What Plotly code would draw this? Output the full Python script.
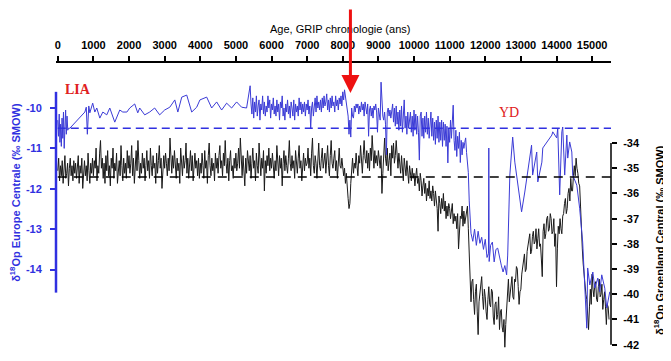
import plotly.graph_objects as go

# ---------------- data ----------------
# top axis ticks (years, GRIP chronology)
age_ticks = list(range(0, 16000, 1000))

# Greenland (GRIP) delta18O, right axis, 25-year steps starting at 0 (one row = 500 years)
black_step = 25
black_val = [
    -35.1, -34.6, -35.5, -34.9, -35.3, -34.7, -35.6, -35.0, -34.5, -35.4, -35.2, -34.8, -35.7, -35.0, -34.6, -35.3, -34.9, -35.5, -34.7, -35.2,
    -34.8, -35.4, -35.0, -34.5, -35.6, -34.9, -35.2, -34.6, -35.8, -35.1, -34.7, -35.3, -34.9, -35.5, -34.4, -35.1, -35.6, -34.8, -35.2, -34.6,
    -35.3, -34.7, -35.0, -34.2, -35.5, -34.9, -35.2, -34.4, -33.9, -35.0, -34.6, -35.4, -34.8, -35.6, -34.5, -35.1, -34.3, -35.3, -34.9, -35.7,
    -34.6, -35.0, -34.2, -35.4, -34.8, -35.1, -34.4, -35.6, -35.0, -34.7, -35.3, -34.1, -34.9, -35.5, -34.6, -35.2, -34.8, -35.4, -34.3, -35.0,
    -34.5, -35.2, -34.8, -34.1, -35.3, -34.6, -35.6, -34.9, -34.3, -35.1, -33.9, -34.7, -35.4, -34.8, -35.2, -34.4, -35.0, -34.6, -35.5, -34.9,
    -34.3, -35.1, -34.7, -35.4, -34.2, -34.9, -35.3, -34.5, -35.0, -34.8, -35.6, -34.4, -35.2, -34.7, -34.1, -35.0, -34.6, -35.8, -34.9, -34.5,
    -35.0, -34.4, -34.8, -35.3, -34.6, -35.1, -33.8, -34.7, -35.2, -34.5, -35.0, -34.3, -34.9, -35.4, -34.6, -35.1, -34.8, -35.6, -34.2, -34.9,
    -35.3, -34.5, -35.0, -34.7, -34.0, -35.2, -34.6, -35.4, -34.8, -34.3, -35.1, -34.5, -35.5, -34.9, -34.4, -35.0, -34.7, -35.3, -34.6, -35.4,
    -34.8, -35.2, -34.4, -34.9, -35.4, -34.3, -35.0, -34.7, -35.6, -34.5, -34.0, -34.9, -35.3, -34.6, -35.1, -34.8, -35.5, -34.4, -35.0, -34.6,
    -35.2, -34.5, -34.1, -35.0, -34.7, -35.3, -34.4, -34.9, -33.9, -34.8, -35.2, -34.6, -35.5, -34.7, -34.3, -35.1, -34.9, -35.4, -34.6, -35.0,
    -34.4, -35.1, -34.8, -34.2, -35.0, -33.8, -34.6, -35.3, -34.5, -35.0, -35.7, -34.6, -35.2, -34.3, -34.9, -35.1, -34.5, -35.4, -34.8, -34.2,
    -35.0, -34.7, -35.5, -34.4, -34.9, -35.2, -34.0, -34.8, -35.3, -34.6, -35.0, -34.3, -35.9, -34.7, -35.2, -34.5, -34.9, -34.2, -35.1, -34.6,
    -35.0, -34.4, -34.9, -35.4, -34.7, -35.1, -34.1, -34.8, -35.3, -34.5, -35.0, -34.6, -35.7, -34.8, -34.3, -35.1, -34.5, -34.9, -35.2, -34.6,
    -33.9, -34.8, -35.1, -34.5, -35.0, -34.7, -35.4, -34.3, -34.9, -35.2, -34.6, -34.1, -35.0, -34.7, -35.5, -34.8, -34.4, -35.1, -34.6, -34.9,
    -34.8, -34.2, -35.0, -34.6, -35.3, -34.4, -33.8, -34.9, -35.2, -34.5, -34.8, -35.4, -34.3, -34.0, -34.9, -35.1, -34.6, -34.2, -35.0, -34.7,
    -34.4, -35.2, -34.7, -34.1, -34.9, -35.3, -34.5, -33.9, -34.8, -35.0, -34.6, -34.3, -35.1, -34.7, -35.4, -34.5, -34.2, -34.9, -35.0, -34.6,
    -34.9, -35.3, -35.0, -35.6, -35.2, -35.9, -36.2, -36.6, -36.4, -35.6, -35.1, -34.6, -35.2, -34.8, -35.0, -34.4, -34.9, -35.3, -34.5, -34.8,
    -34.1, -34.9, -35.2, -34.5, -33.9, -34.6, -34.8, -34.3, -35.0, -34.4, -35.1, -34.2, -34.7, -33.7, -34.6, -35.0, -34.3, -34.8, -34.5, -34.9,
    -34.3, -34.8, -35.0, -34.5, -36.0, -35.2, -34.4, -33.8, -34.6, -34.9, -34.2, -35.1, -34.7, -34.4, -35.3, -34.1, -34.6, -34.0, -34.8, -34.5,
    -33.9, -34.7, -35.0, -34.4, -34.8, -35.2, -34.5, -34.9, -35.5, -34.6, -35.0, -35.3, -34.7, -35.1, -35.6, -34.9, -35.2, -35.5, -35.0, -35.4,
    -35.2, -35.7, -35.3, -35.0, -35.6, -35.4, -35.9, -35.2, -35.5, -36.1, -35.7, -35.4, -36.0, -35.6, -36.3, -35.8, -36.1, -35.5, -36.2, -35.9,
    -36.3, -35.7, -36.0, -36.5, -35.9, -36.2, -36.6, -37.5, -36.1, -36.4, -36.8, -36.2, -36.6, -36.0, -36.7, -36.3, -37.0, -36.5, -36.9, -36.4,
    -36.6, -37.0, -36.7, -36.4, -37.2, -36.8, -37.1, -36.9, -37.4, -36.8, -38.2, -37.3, -36.9, -37.0, -36.5, -37.3, -36.7, -37.2, -36.9, -36.6,
    -36.5, -37.4, -38.5, -39.6, -40.3, -39.5, -39.4, -40.2, -40.8, -39.9, -39.6, -40.7, -41.6, -40.3, -40.0, -39.5, -39.3, -40.1, -40.6, -39.8,
    -40.1, -40.7, -41.0, -40.2, -39.7, -40.4, -40.5, -39.8, -39.9, -40.9, -41.2, -40.4, -40.3, -41.0, -40.8, -40.1, -41.4, -40.7, -40.6, -41.3,
    -41.5, -41.0, -42.1, -41.2, -40.7, -40.1, -39.4, -40.3, -40.0, -39.6, -39.3, -40.1, -40.2, -39.4, -39.5, -38.9, -39.0, -39.7, -40.4, -39.9,
    -39.8, -39.2, -38.9, -38.5, -38.4, -39.1, -39.0, -38.3, -38.1, -37.8, -37.6, -38.4, -38.3, -37.7, -37.5, -38.0, -37.9, -37.4, -38.2, -37.8,
    -37.4, -38.1, -38.0, -38.6, -39.3, -37.5, -37.2, -37.8, -37.6, -37.0, -36.9, -37.5, -37.4, -36.8, -37.0, -37.6, -37.5, -37.0, -38.1, -37.6,
    -39.7, -38.2, -37.3, -37.6, -37.0, -37.4, -37.6, -36.9, -36.8, -36.4, -36.2, -36.8, -36.6, -36.0, -35.8, -36.3, -35.4, -35.9, -35.9, -35.3,
    -34.9, -35.3, -34.6, -35.0, -35.2, -35.6, -35.7, -36.5, -37.6, -38.2, -38.8, -39.3, -39.6, -40.0, -40.2, -40.8, -41.4, -40.5, -39.8, -40.4,
    -39.2, -39.8, -40.1, -39.6, -39.5, -40.2, -40.3, -39.7, -39.4, -40.1, -40.0, -39.6, -40.6, -40.2, -39.9, -40.5, -41.2, -40.4, -40.5, -41.0,
]

# Central Europe delta18O, left axis: irregular early part
blue_early_age = [0, 20, 40, 60, 80, 100, 120, 140, 160, 180, 200, 220, 240, 260, 280, 300,
                  340, 760, 800, 830, 870, 900, 980, 1040, 1095, 1180, 1265, 1375, 1460, 1600,
                  1740, 1825, 1940, 2020, 2160, 2245, 2300, 2440, 2580, 2720, 2860, 3000, 3145,
                  3285, 3370, 3480, 3620, 3760, 3900, 3990, 4180, 4320, 4460, 4600, 4740, 4880,
                  5020, 5160, 5300]
blue_early_val = [-10.3, -10.7, -10.15, -10.85, -10.4, -10.95, -10.25, -10.75, -10.1, -11.0, -10.5, -10.05, -10.65, -10.2, -10.55, -10.5,
                  -10.5, -10.1, -9.98, -10.65, -9.95, -10.12, -9.88, -10.1, -10.0, -10.25, -10.1, -10.17, -10.0, -10.35,
                  -10.05, -10.1, -10.1, -10.0, -9.9, -10.12, -10.0, -10.17, -10.1, -10.0, -10.17, -10.05, -9.98,
                  -9.8, -10.1, -9.73, -9.68, -10.1, -9.98, -9.8, -9.73, -10.0, -9.85, -10.05, -9.88, -10.0,
                  -9.85, -9.98, -10.0]

# dense part, 25-year steps starting at 5400 (one row = 500 years)
blue_dense_start = 5400
blue_dense_step = 25
blue_dense_val = [
    -9.45, -9.9, -10.15, -9.75, -10.25, -9.85, -10.1, -9.7, -10.2, -9.95, -9.8, -10.3, -9.9, -10.05, -9.7, -10.15, -9.85, -10.2, -9.95, -10.1,
    -9.7, -10.0, -9.8, -10.25, -9.9, -10.05, -9.75, -10.15, -9.95, -10.2, -9.8, -10.1, -9.9, -10.3, -9.85, -10.0, -9.7, -10.2, -10.0, -10.3,
    -9.9, -10.1, -9.8, -10.15, -9.95, -10.25, -9.85, -10.0, -10.2, -9.8, -10.3, -9.9, -10.1, -9.95, -10.2, -9.75, -10.05, -9.85, -10.15, -9.9,
    -10.1, -9.85, -10.2, -9.9, -10.05, -9.8, -10.15, -9.95, -10.5, -10.0, -9.85, -10.2, -10.0, -9.75, -10.1, -9.7, -10.0, -9.85, -10.05, -9.8,
    -10.1, -9.75, -10.0, -9.7, -9.95, -9.85, -9.65, -10.05, -9.8, -10.1, -9.75, -10.0, -9.7, -9.95, -9.85, -10.1, -9.7, -9.95, -9.8, -10.05,
    -9.75, -9.9, -9.7, -9.95, -9.6, -9.8, -9.55, -9.75, -9.9, -10.05, -10.2, -10.65, -10.3, -10.72, -10.0, -10.2, -10.25, -9.95, -10.1, -9.9,
    -10.0, -9.9, -10.15, -9.95, -10.1, -9.85, -10.05, -9.9, -10.2, -9.85, -10.0, -10.15, -9.9, -10.7, -10.05, -9.95, -10.2, -10.0, -10.25, -9.95,
    -10.05, -9.9, -10.1, -10.6, -10.0, -10.15, -10.3, -9.36, -10.05, -10.2, -10.3, -10.1, -10.4, -11.16, -10.1, -10.0, -10.2, -10.05, -10.25, -10.1,
    -9.9, -10.35, -10.0, -10.45, -9.95, -10.4, -10.1, -10.55, -10.05, -10.45, -9.95, -10.6, -10.15, -9.8, -10.5, -10.2, -10.65, -10.1, -10.5, -10.2,
    -10.1, -10.6, -10.2, -10.7, -10.05, -10.55, -10.15, -10.65, -10.2, -10.6, -11.29, -10.2, -10.1, -10.7, -10.25, -10.75, -10.2, -10.6, -10.1, -10.65,
    -10.25, -10.75, -10.3, -10.1, -10.7, -10.25, -10.8, -10.35, -10.9, -10.3, -10.75, -10.2, -10.85, -10.35, -10.8, -10.3, -10.95, -10.35, -10.8, -10.4,
    -10.95, -10.45, -11.36, -10.5, -10.85, -10.3, -10.75, -10.2, -9.93, -10.8, -11.05, -10.55, -11.2, -10.7, -11.0, -10.6, -11.35, -10.8, -11.16, -10.85,
    -11.0, -10.85, -10.74, -11.1, -11.34, -11.6, -12.3, -12.8,
]

# late part (Younger Dryas / Bolling-Allerod), irregular
blue_late_age = [11600, 11650, 11700, 11750, 11800, 11850, 11900, 11950, 12000, 12050, 12090, 12100, 12110,
                 12150, 12200, 12250, 12300, 12350, 12400, 12450, 12500, 12550, 12600, 12630, 12690, 12770,
                 12830, 12910, 13020, 13110, 13190, 13250, 13300, 13330, 13445, 13475, 13590, 13615, 13725,
                 13810, 13870, 13895, 14005, 14035, 14090, 14150, 14175, 14230, 14290, 14315, 14370, 14430,
                 14455, 14570, 14650, 14735, 14795, 14850, 14875, 14935, 15020, 15075, 15160, 15215, 15270,
                 15355, 15410, 15495]
blue_late_val = [-13.1, -13.3, -13.0, -13.4, -13.05, -13.35, -13.2, -13.5, -13.25, -13.7, -13.6, -10.99, -13.8,
                 -13.4, -13.32, -13.81, -13.5, -13.47, -13.7, -13.89, -14.06, -13.9, -14.13, -13.64, -11.66, -10.72,
                 -11.34, -11.91, -12.57, -12.08, -11.58, -11.24, -10.92, -11.66, -11.09, -11.83, -11.34, -10.99, -10.84,
                 -10.74, -10.67, -10.59, -10.74, -10.5, -12.15, -10.59, -10.47, -11.66, -10.67, -11.24, -10.84, -11.09,
                 -11.66, -11.91, -12.48, -13.32, -14.31, -15.45, -13.96, -14.38, -14.06, -14.46, -14.21, -14.55, -14.13,
                 -14.46, -14.95, -14.55]

blue_ref = -10.5      # dashed reference, Europe
black_ref = -35.35    # dashed reference, Greenland
event_age = 8215      # 8.2 ka event arrow

left_ticks = [-10, -11, -12, -13, -14]
right_ticks = [-34, -35, -36, -37, -38, -39, -40, -41, -42]

# ---------------- build ----------------
black_age = [black_step * i for i in range(len(black_val))]
blue_dense_age = [blue_dense_start + blue_dense_step * i for i in range(len(blue_dense_val))]
blue_age = blue_early_age + blue_dense_age + blue_late_age
blue_val = blue_early_val + blue_dense_val + blue_late_val

BLUE = "#3030e0"
FONT = "Arial, Liberation Sans, sans-serif"
SERIF = "Liberation Serif, Times New Roman, serif"

fig = go.Figure()
fig.add_trace(go.Scatter(x=black_age, y=black_val, mode="lines", yaxis="y",
                         line=dict(color="#1a1a1a", width=1), showlegend=False))
fig.add_trace(go.Scatter(x=blue_age, y=blue_val, mode="lines", yaxis="y2",
                         line=dict(color="#3b3bd6", width=1), showlegend=False))

# the page body keeps an 8px margin, so the figure is sized and placed to compensate
fig.update_layout(
    width=663, height=345,
    margin=dict(l=48, r=60, t=55, b=1, autoexpand=False),
    paper_bgcolor="white", plot_bgcolor="white",
    xaxis=dict(range=[-50, 15530], side="top", showline=True, linecolor="black", linewidth=1.5,
               ticks="outside", ticklen=5, tickwidth=1.5, tickcolor="black",
               tickvals=age_ticks, ticktext=[str(v) for v in age_ticks],
               tickfont=dict(family=FONT, size=11, color="black", weight="bold"),
               ticklabelstandoff=3, automargin=False,
               showgrid=False, zeroline=False),
    yaxis=dict(range=[-42.29, -30.825], side="right", showline=False,
               tickvals=right_ticks, ticktext=[str(v) for v in right_ticks],
               ticks="outside", ticklen=5, tickwidth=1.5, tickcolor="black",
               tickfont=dict(family=FONT, size=11, color="black", weight="bold"),
               ticklabelstandoff=4, automargin=False, showgrid=False, zeroline=False),
    yaxis2=dict(range=[-16.04, -8.886], side="left", overlaying="y", showline=False,
                tickvals=left_ticks, ticktext=[str(v) for v in left_ticks],
                ticks="outside", ticklen=5, tickwidth=1.5, tickcolor=BLUE,
                tickfont=dict(family=FONT, size=11, color=BLUE, weight="bold"),
                ticklabelstandoff=6, automargin=False, showgrid=False, zeroline=False),
)

# axis lines limited to the labelled ranges
fig.add_shape(type="line", xref="paper", x0=0, x1=0, yref="y2", y0=-9.6, y1=-14.57,
              line=dict(color=BLUE, width=2.5))
fig.add_shape(type="line", xref="paper", x0=1, x1=1, yref="y", y0=-34, y1=-42,
              line=dict(color="black", width=1.5))
# dashed reference lines
fig.add_shape(type="line", xref="x", x0=0, x1=15530, yref="y2", y0=blue_ref, y1=blue_ref,
              line=dict(color=BLUE, width=1.5, dash="8px,5px"))
fig.add_shape(type="line", xref="x", x0=0, x1=15530, yref="y", y0=black_ref, y1=black_ref,
              line=dict(color="black", width=1.5, dash="9px,7px"))

# titles and labels
fig.add_annotation(text="Age, GRIP chronologie (ans)", xref="paper", yref="paper",
                   x=0.512, y=1.118, xanchor="center", yanchor="middle", showarrow=False,
                   font=dict(family=FONT, size=11, color="black"))
fig.add_annotation(text="δ<sup>18</sup>Op Europe Centrale (‰ SMOW)", xref="paper", yref="paper",
                   x=-0.074, y=0.554, xanchor="center", yanchor="middle", textangle=-90,
                   showarrow=False, font=dict(family=FONT, size=11, color=BLUE, weight="bold"))
fig.add_annotation(text="δ<sup>18</sup>Op Groenland Central (‰ SMOW)", xref="paper", yref="paper",
                   x=1.0865, y=0.3875, xanchor="center", yanchor="middle", textangle=-90,
                   showarrow=False, font=dict(family=FONT, size=11, color="black", weight="bold"))
fig.add_annotation(text="LIA", xref="x", yref="paper", x=567, y=0.91,
                   xanchor="center", yanchor="middle", showarrow=False,
                   font=dict(family=SERIF, size=14, color="#e02020", weight="bold"))
fig.add_annotation(text="YD", xref="x", yref="paper", x=12665, y=0.83,
                   xanchor="center", yanchor="middle", showarrow=False,
                   font=dict(family=SERIF, size=14, color="#e02020"))
fig.add_annotation(text="", xref="x", yref="paper", x=event_age, y=0.896,
                   ax=0, ay=-93, axref="pixel", ayref="pixel",
                   showarrow=True, arrowhead=2, arrowsize=1.2, arrowwidth=3, arrowcolor="#ee1111")

fig.write_html("out.html")
